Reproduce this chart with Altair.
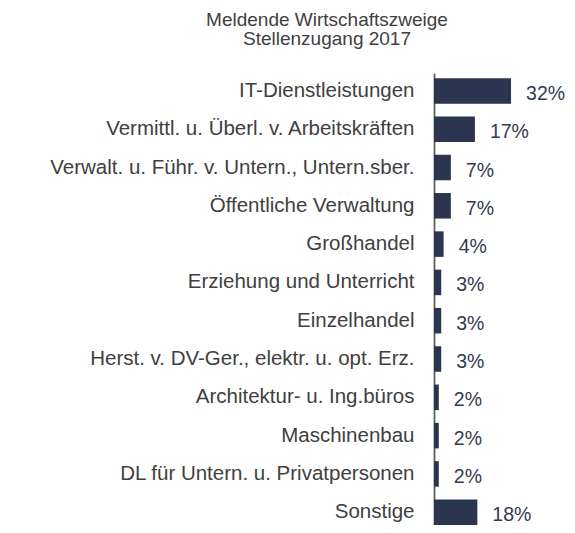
import altair as alt
import pandas as pd

categories = [
    "IT-Dienstleistungen",
    "Vermittl. u. Überl. v. Arbeitskräften",
    "Verwalt. u. Führ. v. Untern., Untern.sber.",
    "Öffentliche Verwaltung",
    "Großhandel",
    "Erziehung und Unterricht",
    "Einzelhandel",
    "Herst. v. DV-Ger., elektr. u. opt. Erz.",
    "Architektur- u. Ing.büros",
    "Maschinenbau",
    "DL für Untern. u. Privatpersonen",
    "Sonstige",
]
values = [32, 17, 7, 7, 4, 3, 3, 3, 2, 2, 2, 18]
labels = [f"{v}%" for v in values]
title_lines = ["Meldende Wirtschaftszweige", "Stellenzugang 2017"]

df = pd.DataFrame({"cat": categories, "val": values, "lab": labels})

FONT = "Liberation Sans"
BAR = "#2c354f"

y_enc = alt.Y(
    "cat:N",
    sort=categories,
    title=None,
    scale=alt.Scale(paddingInner=0.333, paddingOuter=0.067, align=1),
    axis=alt.Axis(
        domain=True,
        domainColor="#606060",
        domainWidth=1.8,
        ticks=False,
        labelPadding=20,
        labelLimit=600,
        labelFont=FONT,
        labelFontSize=20.5,
        labelColor="#404040",
        grid=False,
    ),
)
x_enc = alt.X("val:Q", scale=alt.Scale(domain=[0, 54]), axis=None)

bars = alt.Chart(df).mark_bar(color=BAR).encode(x=x_enc, y=y_enc)
texts = alt.Chart(df).mark_text(
    align="left", baseline="middle", dx=15, dy=3, font=FONT, fontSize=19.5, color="#333a52"
).encode(x=x_enc, y=alt.Y("cat:N", sort=categories), text="lab:N")

chart = (
    alt.layer(bars, texts)
    .properties(
        width=130,
        height=452,
        title=alt.TitleParams(
            text=title_lines,
            font=FONT,
            fontSize=19,
            fontWeight="normal",
            color="#404040",
            anchor="middle",
            frame="group",
            dx=-172,
            offset=24,
            lineHeight=19.5,
        ),
        autosize=alt.AutoSizeParams(type="none"),
        padding={"left": 426, "top": 65, "right": 3, "bottom": 0},
    )
    .configure_view(stroke=None)
)

chart.save("out.html", embed_options={"renderer": "svg", "actions": False})
